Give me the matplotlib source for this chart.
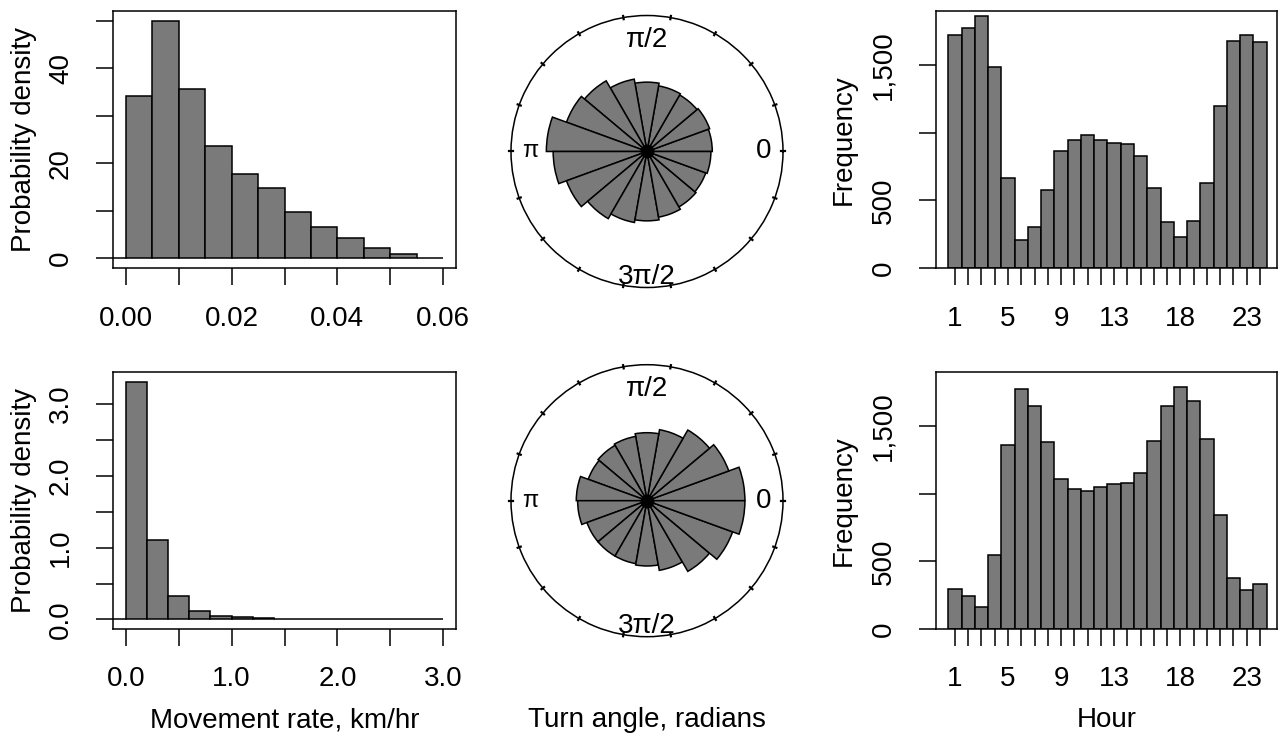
import numpy as np
import matplotlib
matplotlib.use("Agg")
import matplotlib.pyplot as plt

plt.rcParams['font.family'] = ['Liberation Sans', 'DejaVu Sans']

# movement rate histograms (probability density)
RATE_BIN_W_TOP = 0.005
RATE_DENS_TOP = [34.1, 50.0, 35.6, 23.6, 17.8, 14.8, 9.8, 6.6, 4.3, 2.3, 0.9, 0.14]
RATE_BIN_W_BOT = 0.2
RATE_DENS_BOT = [3.31, 1.10, 0.33, 0.12, 0.05, 0.028, 0.014, 0.01,
                 0.004, 0.003, 0.002, 0.001, 0.001, 0.001, 0.001]

# turn angle rose diagrams (18 bins of 20 deg, radius as fraction of circle)
ROSE_TOP = [0.48, 0.49, 0.48, 0.49, 0.51, 0.54, 0.60, 0.63, 0.74,
            0.69, 0.63, 0.57, 0.53, 0.51, 0.49, 0.47, 0.46, 0.47]
ROSE_BOT = [0.72, 0.64, 0.60, 0.53, 0.50, 0.48, 0.47, 0.46, 0.52,
            0.51, 0.47, 0.47, 0.47, 0.48, 0.52, 0.60, 0.67, 0.72]

# hour of day counts
HOURS = list(range(1, 25))
HOUR_TOP = [1721, 1773, 1861, 1483, 669, 209, 305, 573, 866, 949, 981, 947,
            922, 920, 829, 595, 342, 231, 347, 632, 1197, 1677, 1719, 1672]
HOUR_BOT = [293, 246, 162, 546, 1357, 1773, 1647, 1379, 1107, 1038, 1020, 1052,
            1072, 1077, 1153, 1392, 1647, 1790, 1689, 1402, 846, 374, 288, 329]
HOUR_LABELS = [1, 5, 9, 13, 18, 23]

BAR = "#7a7a7a"
FS = 20
LW = 1.1

fig = plt.figure(figsize=(12.79, 7.38), dpi=100)


def style_box(ax):
    for s in ax.spines.values():
        s.set_linewidth(LW)
    ax.tick_params(direction='out', length=12, width=LW, labelsize=FS)
    ax.tick_params(axis='x', pad=15)
    ax.tick_params(axis='y', pad=16)


def rate_hist(rect, dens, w, xticks, xlabels, yticks, ylabels, xlabel=None):
    ax = fig.add_axes(rect)
    edges = np.arange(len(dens)) * w
    ax.bar(edges, dens, width=w, align='edge', color=BAR, edgecolor='black', linewidth=LW)
    xmax = len(dens) * w
    ax.set_xlim(-0.04 * xmax, 1.04 * xmax)
    ymax = max(dens)
    ax.set_ylim(-0.04 * ymax, 1.04 * ymax)
    ax.plot([-0.04 * xmax, 0], [0, 0], color='black', lw=LW)
    ax.set_xticks(xticks, xlabels)
    ax.set_yticks(yticks, ylabels, rotation=90, va='center')
    style_box(ax)
    ax.set_ylabel("Probability density", fontsize=FS)
    ax.yaxis.set_label_coords(-0.222, 0.5)
    if xlabel:
        ax.set_xlabel(xlabel, fontsize=FS)
        ax.xaxis.set_label_coords(0.5, -0.305)
    return ax


def hour_hist(rect, counts, xlabel=None):
    ax = fig.add_axes(rect)
    ax.bar(HOURS, counts, width=1, color=BAR, edgecolor='black', linewidth=LW)
    ax.set_xlim(0.5 - 0.95, 24.5 + 0.78)
    ax.set_ylim(0, 1900)
    ax.set_xticks(HOURS, [str(h) if h in HOUR_LABELS else "" for h in HOURS])
    ax.set_yticks([0, 500, 1000, 1500], ["0", "500", "", "1,500"], rotation=90, va='center')
    style_box(ax)
    ax.set_ylabel("Frequency", fontsize=FS)
    ax.yaxis.set_label_coords(-0.23, 0.5)
    if xlabel:
        ax.set_xlabel(xlabel, fontsize=FS)
        ax.xaxis.set_label_coords(0.5, -0.305)
    return ax


def rose(rect, radii):
    ax = fig.add_axes(rect, projection='polar')
    theta = np.deg2rad(np.arange(len(radii)) * 20)
    ax.bar(theta, radii, width=np.deg2rad(20), align='edge', bottom=0,
           color=BAR, edgecolor='black', linewidth=LW)
    ax.plot([0], [0], 'o', color='black', ms=9)
    # tiny tick marks on the circle every 20 degrees
    for t in np.deg2rad(np.arange(0, 360, 20)):
        ax.plot([t, t], [0.988, 1.012], color='black', lw=1.6, clip_on=False)
    ax.set_ylim(0, 1)
    ax.set_yticks([])
    ax.set_xticks([])
    ax.grid(False)
    ax.spines['polar'].set_linewidth(LW)
    ax.text(np.pi / 2, 0.82, "π/2", ha='center', va='center', fontsize=FS)
    ax.text(0, 0.86, "0", ha='center', va='center', fontsize=FS)
    ax.text(np.pi, 0.86, "π", ha='center', va='center', fontsize=FS - 3)
    ax.text(3 * np.pi / 2, 0.92, "3π/2", ha='center', va='center', fontsize=FS)
    return ax


W = 343 / 1279
H = 257 / 738
rate_hist([113 / 1279, 1 - 268 / 738, W, H], RATE_DENS_TOP, RATE_BIN_W_TOP,
          [0, 0.01, 0.02, 0.03, 0.04, 0.05, 0.06],
          ["0.00", "", "0.02", "", "0.04", "", "0.06"],
          [0, 10, 20, 30, 40, 50], ["0", "", "20", "", "40", ""])
rate_hist([113 / 1279, 1 - 629 / 738, W, H], RATE_DENS_BOT, RATE_BIN_W_BOT,
          [0, 0.5, 1.0, 1.5, 2.0, 2.5, 3.0],
          ["0.0", "", "1.0", "", "2.0", "", "3.0"],
          [0, 0.5, 1.0, 1.5, 2.0, 2.5, 3.0],
          ["0.0", "", "1.0", "", "2.0", "", "3.0"],
          xlabel="Movement rate, km/hr")

RW = 341.3 / 1279
hour_hist([935.7 / 1279, 1 - 268 / 738, RW, H], HOUR_TOP)
hour_hist([935.7 / 1279, 1 - 629 / 738, RW, H], HOUR_BOT, xlabel="Hour")

D = 272
rose([(647 - 136) / 1279, 1 - (151.5 + 136) / 738, D / 1279, D / 738], ROSE_TOP)
rose([(647 - 136) / 1279, 1 - (500.7 + 136) / 738, D / 1279, D / 738], ROSE_BOT)

fig.text(647 / 1279, 1 - 707 / 738, "Turn angle, radians", ha='center', va='top', fontsize=FS)

fig.savefig("out.png", dpi=100)
